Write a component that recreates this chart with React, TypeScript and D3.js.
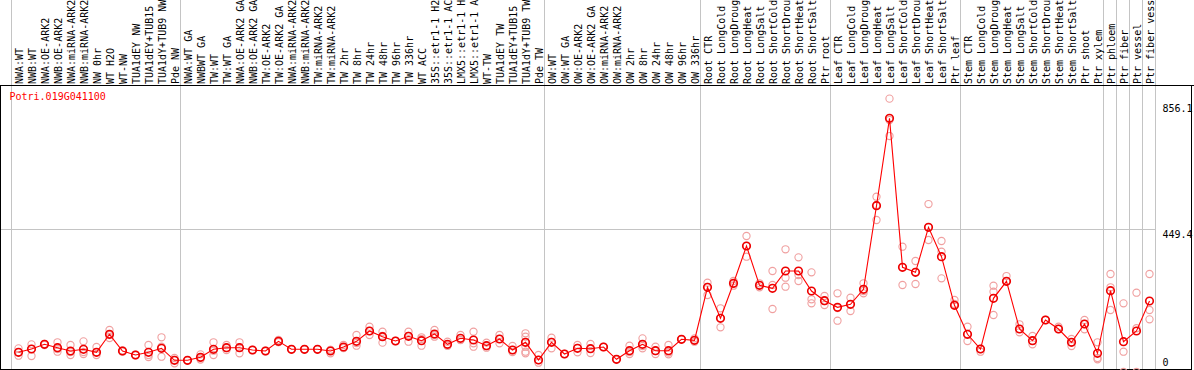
import React from "react";
import * as d3 from "d3";

const geneId = "Potri.019G041100";

const samples: string[] = [
  "NWA:WT", "NWB:WT", "NWA:OE-ARK2", "NWB:OE-ARK2", "NWA:miRNA-ARK2", "NWB:miRNA-ARK2", "NW 0hr", "WT H2O", "WT-NW",
  "TUA1dEY NW", "TUA1dEY+TUB15 NW", "TUA1dY+TUB9 NW", "Pde NW",
  "NWA:WT GA", "NWBWT GA", "TW:WT", "TW:WT GA", "NWA:OE-ARK2 GA", "NWB:OE-ARK2 GA", "TW:OE-ARK2", "TW:OE-ARK2 GA",
  "NWA:miRNA-ARK2", "NWB:miRNA-ARK2", "TW:miRNA-ARK2", "TW:miRNA-ARK2", "TW 2hr", "TW 8hr", "TW 24hr", "TW 48hr",
  "TW 96hr", "TW 336hr", "WT ACC", "35S::etr1-1 H2O", "35S::etr1-1 ACC", "LMX5::etr1-1 H2O", "LMX5::etr1-1 ACC",
  "WT-TW", "TUA1dEY TW", "TUA1dEY+TUB15 TW", "TUA1dY+TUB9 TW", "Pde TW",
  "OW:WT", "OW:WT GA", "OW:OE-ARK2", "OW:OE-ARK2 GA", "OW:miRNA-ARK2", "OW:miRNA-ARK2", "OW 2hr", "OW 8hr",
  "OW 24hr", "OW 48hr", "OW 96hr", "OW 336hr",
  "Root CTR", "Root LongCold", "Root LongDrought", "Root LongHeat", "Root LongSalt", "Root ShortCold",
  "Root ShortDrought", "Root ShortHeat", "Root ShortSalt", "Ptr root",
  "Leaf CTR", "Leaf LongCold", "Leaf LongDrought", "Leaf LongHeat", "Leaf LongSalt", "Leaf ShortCold",
  "Leaf ShortDrought", "Leaf ShortHeat", "Leaf ShortSalt", "Ptr leaf",
  "Stem CTR", "Stem LongCold", "Stem LongDrought", "Stem LongHeat", "Stem LongSalt", "Stem ShortCold",
  "Stem ShortDrought", "Stem ShortHeat", "Stem ShortSalt", "Ptr shoot", "Ptr xylem",
  "Ptr phloem", "Ptr fiber", "Ptr vessel", "Ptr fiber vessel",
];

// index of last sample of each group (a separator follows it)
const groupEnds: number[] = [12, 40, 52, 62, 72, 83, 84, 85, 86, 87];

const means: number[] = [
  61.7, 72.0, 86.7, 76.1, 65.8, 71.1, 61.7, 118.1, 65.8, 53.2, 61.7, 74.2, 36.6,
  36.6, 46.0, 71.1, 76.1, 76.1, 68.9, 65.8, 96.1, 71.1, 71.1, 71.1, 65.8, 78.3, 96.1, 128.4, 110.5,
  97.1, 111.8, 98.0, 119.0, 86.7, 105.5, 100.2, 82.4, 103.3, 68.9, 93.0, 37.6,
  93.0, 56.4, 74.2, 73.0, 78.3, 39.8, 66.7, 86.7, 66.7, 66.7, 102.4, 99.3,
  265.3, 168.2, 277.8, 394.6, 271.5, 262.1, 316.3, 316.3, 253.7, 223.3,
  202.6, 212.0, 259.0, 520.8, 794.5, 327.9, 312.2, 453.2, 361.1, 208.9,
  118.1, 72.0, 230.8, 284.0, 134.7, 98.0, 162.8, 134.7, 93.0, 150.3, 58.6,
  254.6, 94.9, 128.4, 222.3,
];

const replicates: number[][] = [
  [74.2, 51.0, 61.7], [86.7, 50.1, 72.0], [86.7, 84.6, 87.7], [93.0, 63.6, 72.0], [84.6, 53.2, 62.6],
  [96.1, 62.6, 56.4], [78.3, 53.2, 61.7], [131.5, 115.9, 106.5], [65.8, 64.2, 67.3], [53.2, 54.0, 52.5],
  [84.6, 47.0, 53.2], [108.7, 79.2, 47.9], [27.2, 37.6, 43.8],
  [36.6, 37.0, 36.0], [55.4, 43.8, 39.1], [93.0, 66.7, 53.2], [84.6, 68.9, 75.2], [93.0, 58.6, 76.7],
  [68.9, 69.5, 68.3], [65.8, 66.5, 65.0], [100.2, 94.0, 94.0], [71.1, 71.5, 70.8], [71.1, 71.6, 70.6],
  [71.1, 71.4, 70.9], [58.6, 68.9, 69.5], [84.6, 75.2, 75.5], [115.9, 82.4, 90.8], [141.9, 115.9, 128.4],
  [126.2, 91.8, 112.7], [97.1, 97.5, 96.8], [126.2, 94.9, 112.7], [108.7, 82.4, 103.3], [131.5, 110.5, 115.9],
  [94.9, 82.4, 83.0], [115.9, 100.2, 100.5], [126.2, 89.9, 79.2], [91.8, 76.1, 81.4], [115.9, 89.9, 103.3],
  [81.4, 68.9, 62.6], [121.2, 110.5, 79.2, 63.6, 58.6, 93.0], [53.2, 29.1, 37.6],
  [107.4, 74.2, 94.0], [56.4, 56.8, 56.0], [84.6, 61.7, 75.2], [87.7, 73.0, 59.5], [78.3, 78.8, 77.9],
  [39.8, 40.2, 39.5], [82.4, 56.4, 62.6], [105.5, 74.2, 81.4], [79.2, 56.4, 65.8], [84.6, 55.4, 61.1],
  [102.4, 102.8, 102.0], [105.5, 94.9, 99.3],
  [279.7, 241.1, 266.2], [199.5, 140.0, 169.1], [285.0, 270.3, 275.6], [425.9, 361.1, 394.6],
  [277.8, 265.3, 271.5], [316.3, 197.3, 272.5], [384.3, 295.3, 267.1], [359.2, 285.0, 303.8],
  [312.2, 227.7, 215.1], [238.0, 209.8, 222.3],
  [246.5, 160.7, 200.4], [232.7, 191.0, 212.0], [277.8, 246.5, 253.7], [549.0, 476.0, 523.0],
  [856.1, 739.0, 789.3], [392.4, 272.5, 327.9], [347.6, 275.6, 313.2], [526.1, 413.4, 453.2],
  [410.3, 376.7, 293.4], [225.5, 208.9, 213.0],
  [141.9, 97.1, 118.1], [63.6, 72.0, 72.0], [270.3, 251.5, 178.5], [300.6, 284.0, 284.0],
  [149.4, 124.3, 134.7], [112.7, 86.7, 98.0], [162.8, 163.0, 162.5], [141.9, 134.7, 134.7],
  [103.3, 81.4, 93.0], [162.8, 133.8, 150.3], [93.0, 39.8, 43.8],
  [306.9, 265.3, 194.2], [215.1, 63.6, 0], [248.3, 0, 137.0], [306.9, 194.2, 165.0],
];

const maxValue = 856.1;
const tickValues: number[] = [856.1, 449.4, 0];
const tickLabels: string[] = ["856.1", "449.4", "0"];

const W = 1194;
const H = 370;
const FONT = "'DejaVu Sans Mono', monospace";

export default function App() {
  const top = 85;
  const bottom = 369;
  const plotRight = 1191;

  const band = d3
    .scaleBand<number>()
    .domain(samples.map((_, i) => i))
    .range([11, 11 + samples.length * 13])
    .paddingInner(0)
    .paddingOuter(0);
  const cx = (i: number) => (band(i) as number) + band.bandwidth() / 2 + 1;

  const yTop = maxValue * 1.05;
  const y = d3.scaleLinear().domain([0, yTop]).range([372, top]);

  const line = d3
    .line<number>()
    .x((_, i) => cx(i))
    .y((d) => y(d));

  const sepXs = [11, ...groupEnds.map((g) => (band(g) as number) + band.bandwidth())];
  const axisX = (band(samples.length - 1) as number) + band.bandwidth();

  const tickY = (v: number) => {
    const b = y(v) + 9;
    return Math.min(Math.max(b, top + 27), bottom - 3);
  };

  return (
    <svg
      width={W}
      height={H}
      style={{ position: "absolute", left: 0, top: 0, background: "#fff" }}
      fontFamily={FONT}
    >
      <rect x={0} y={0} width={W} height={H} fill="#fff" />
      {/* mid gridline */}
      <line
        x1={1}
        x2={axisX}
        y1={Math.round(y(yTop / 2)) + 0.5}
        y2={Math.round(y(yTop / 2)) + 0.5}
        stroke="#c4c4c4"
        strokeWidth={1}
      />
      {/* vertical separators */}
      {sepXs.map((sx, k) => (
        <line
          key={"s" + k}
          x1={Math.round(sx) + 0.5}
          x2={Math.round(sx) + 0.5}
          y1={0}
          y2={bottom}
          stroke="#c4c4c4"
          strokeWidth={1}
        />
      ))}
      {/* header labels */}
      {samples.map((s, i) => {
        const tx = cx(i) + 4;
        const ty = 84;
        return (
          <text
            key={"l" + i}
            x={tx}
            y={ty}
            transform={`rotate(-90, ${tx}, ${ty})`}
            fontSize={10}
            fill="#000"
          >
            {s}
          </text>
        );
      })}
      {/* frame */}
      <line x1={0} x2={W} y1={top + 0.5} y2={top + 0.5} stroke="#000" strokeWidth={1} />
      <line x1={0} x2={plotRight + 1} y1={bottom + 0.5} y2={bottom + 0.5} stroke="#000" strokeWidth={1} />
      <line x1={0.5} x2={0.5} y1={top} y2={bottom + 1} stroke="#000" strokeWidth={1} />
      <line x1={plotRight + 0.5} x2={plotRight + 0.5} y1={top} y2={bottom + 1} stroke="#000" strokeWidth={1} />
      {/* gene id */}
      <text x={9.5} y={100} fontSize={10} fill="#ff0000">
        {geneId}
      </text>
      {/* tick labels */}
      {tickValues.map((v, k) => (
        <text key={"t" + k} x={axisX + 7.5} y={tickY(v)} fontSize={10} fill="#000">
          {tickLabels[k]}
        </text>
      ))}
      {/* replicates */}
      {replicates.map((reps, i) =>
        reps.map((v, j) => (
          <circle
            key={`r${i}-${j}`}
            cx={cx(i)}
            cy={y(v)}
            r={3.6}
            fill="none"
            stroke="#f0a0a0"
            strokeWidth={1.1}
          />
        ))
      )}
      {/* mean line */}
      <path d={line(means) || ""} fill="none" stroke="#ff0000" strokeWidth={1.1} />
      {means.map((v, i) => (
        <circle
          key={"m" + i}
          cx={cx(i)}
          cy={y(v)}
          r={3.8}
          fill="none"
          stroke="#ee0000"
          strokeWidth={1.6}
        />
      ))}
    </svg>
  );
}
